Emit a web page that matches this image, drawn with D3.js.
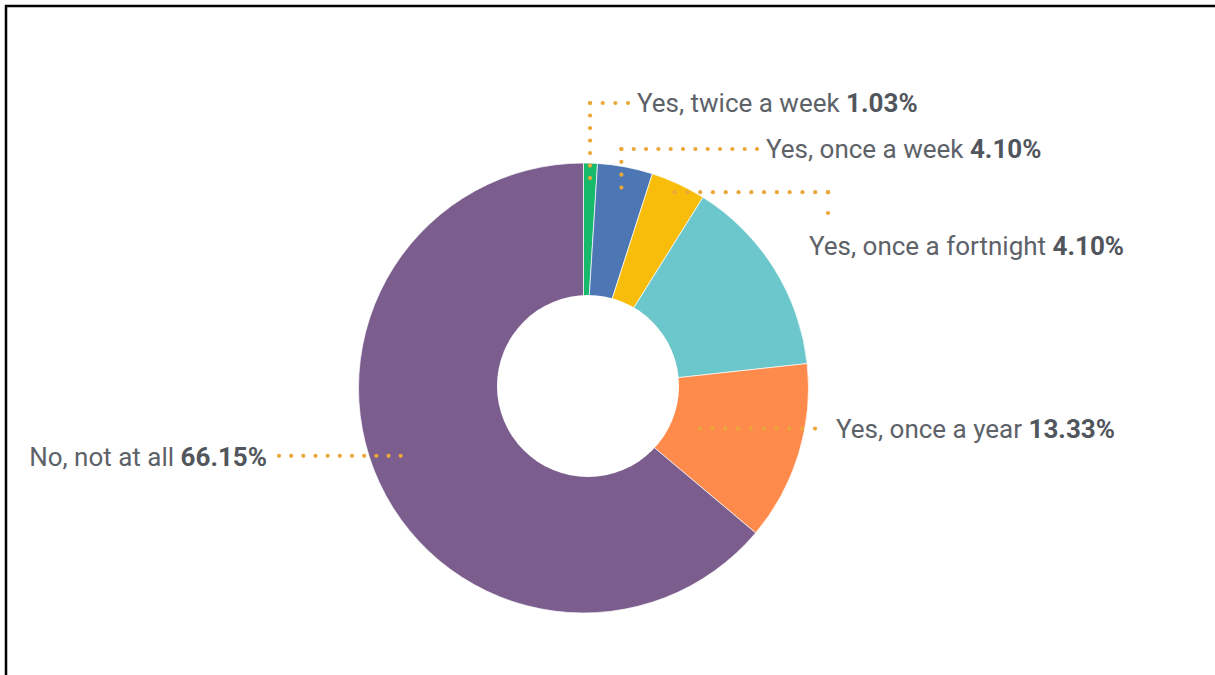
<!DOCTYPE html>
<html>
<head>
<meta charset="utf-8">
<script src="https://cdn.jsdelivr.net/npm/d3@7"></script>
<style>
  html, body { margin: 0; padding: 0; background: #fff; overflow: hidden; }
  svg { display: block; }
  text { font-family: Roboto, "Noto Sans", sans-serif; }
</style>
</head>
<body>
<svg id="chart" width="1215" height="675"></svg>
<script>
// Survey answers, in drawing order (clockwise from 12 o'clock)
const categories = [
  "Yes, twice a week",
  "Yes, once a week",
  "Yes, once a fortnight",
  "Yes, once a month",
  "Yes, once a year",
  "No, not at all"
];
const values = [1.03, 4.10, 4.10, 14.87, 13.33, 66.15];
const valueLabels = ["1.03%", "4.10%", "4.10%", "", "13.33%", "66.15%"];
const showLabel = [true, true, true, false, true, true];
const colors = ["#17b96b", "#4c77b4", "#f8bd0b", "#6bc7cb", "#fe8a4b", "#7b5e8d"];

// Layout
const W = 1215, H = 675;
const cx = 583.5, cy = 388, outerR = 225;
const hole = { x: 588, y: 386, r: 91 };
const dotColor = "#eba83a";
const dotSpacing = 12.5;

// Leader-line layout per labelled slice:
// t = position along the slice's angle span, r = anchor radius,
// route = list of turns after the anchor, text = label position
const leaders = {
  0: { t: 0.5,  r: 210, route: [["y", 103], ["x", 628]], text: { x: 637, y: 112, anchor: "start" } },
  1: { t: 0.5,  r: 204, route: [["y", 149], ["x", 757]], text: { x: 766, y: 158, anchor: "start" } },
  2: { t: 0.5,  r: 216, route: [["x", 828], ["y", 213]], text: { x: 809, y: 255, anchor: "start" } },
  4: { t: 0.55, r: 123, route: [["x", 815]],             text: { x: 836, y: 438, anchor: "start" } },
  5: { t: 0.52, r: 195, route: [["x", 279]],             text: { x: 267, y: 466, anchor: "end" } }
};

const svg = d3.select("#chart");

// Frame lines along the left and top edges
svg.append("path")
  .attr("d", `M6,${H} V6 H${W}`)
  .attr("fill", "none")
  .attr("stroke", "#000")
  .attr("stroke-width", 2.5);

const data = categories.map((c, i) => ({
  category: c, value: values[i], label: valueLabels[i], show: showLabel[i], color: colors[i], i
}));

const pie = d3.pie().value(d => d.value).sort(null).startAngle(0).endAngle(2 * Math.PI);
const arcs = pie(data);
const arc = d3.arc().innerRadius(0).outerRadius(outerR);

const g = svg.append("g").attr("transform", `translate(${cx},${cy})`);
g.selectAll("path.slice")
  .data(arcs)
  .join("path")
  .attr("class", "slice")
  .attr("d", arc)
  .attr("fill", d => d.data.color)
  .attr("stroke", "#fff")
  .attr("stroke-width", 0.7);

// Donut hole
svg.append("circle")
  .attr("cx", hole.x).attr("cy", hole.y).attr("r", hole.r)
  .attr("fill", "#fff");

// Dotted leaders
function dotsAlong(p0, p1) {
  const len = Math.hypot(p1[0] - p0[0], p1[1] - p0[1]);
  const n = Math.max(1, Math.floor((len + 4) / dotSpacing));
  return d3.range(n + 1).map(k => [p0[0] + (p1[0] - p0[0]) * k / n, p0[1] + (p1[1] - p0[1]) * k / n]);
}

const dots = [];
arcs.forEach(a => {
  const L = leaders[a.data.i];
  if (!L || !a.data.show) return;
  const ang = a.startAngle + (a.endAngle - a.startAngle) * L.t;
  const start = [cx + L.r * Math.sin(ang), cy - L.r * Math.cos(ang)];
  const pts = [start];
  L.route.forEach(([axis, v]) => {
    const prev = pts[pts.length - 1];
    pts.push(axis === "x" ? [v, prev[1]] : [prev[0], v]);
  });
  for (let k = 0; k < pts.length - 1; k++) {
    // dots are laid out from the corner outward so every corner carries a dot
    const seg = k === 0 && pts.length > 2 ? dotsAlong(pts[1], pts[0]) : dotsAlong(pts[k], pts[k + 1]);
    seg.forEach(p => dots.push(p));
  }
});

svg.append("g").selectAll("circle")
  .data(dots)
  .join("circle")
  .attr("cx", d => d[0])
  .attr("cy", d => d[1])
  .attr("r", 2.1)
  .attr("fill", dotColor);

// Labels
const labels = svg.append("g").selectAll("text")
  .data(data.filter(d => d.show))
  .join("text")
  .attr("x", d => leaders[d.i].text.x)
  .attr("y", d => leaders[d.i].text.y)
  .attr("text-anchor", d => leaders[d.i].text.anchor)
  .attr("font-size", 26)
  .attr("fill", "#5d6269");

labels.append("tspan").text(d => d.category + " ");
labels.append("tspan")
  .attr("font-weight", 700)
  .attr("fill", "#51565d")
  .text(d => d.label);
</script>
</body>
</html>
